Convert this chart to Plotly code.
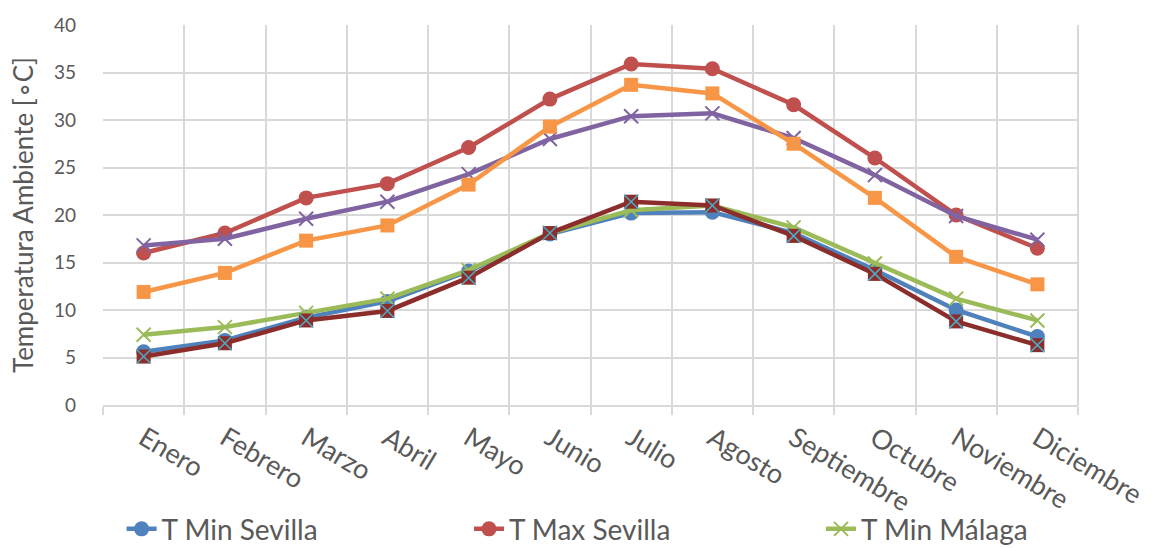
import plotly.graph_objects as go

# Monthly ambient temperatures (°C)
meses = ["Enero", "Febrero", "Marzo", "Abril", "Mayo", "Junio", "Julio",
         "Agosto", "Septiembre", "Octubre", "Noviembre", "Diciembre"]

t_min_sevilla = [5.6, 6.8, 9.2, 10.9, 14.1, 18.0, 20.2, 20.3, 18.1, 14.2, 10.0, 7.2]
t_max_sevilla = [16.0, 18.1, 21.8, 23.3, 27.1, 32.2, 35.9, 35.4, 31.6, 26.0, 20.0, 16.5]
t_min_malaga = [7.4, 8.2, 9.7, 11.2, 14.2, 18.1, 20.5, 21.0, 18.7, 14.9, 11.2, 8.9]
t_max_malaga = [16.8, 17.5, 19.6, 21.4, 24.3, 28.0, 30.4, 30.7, 28.1, 24.2, 19.9, 17.4]
t_max_jaen = [11.9, 13.9, 17.3, 18.9, 23.2, 29.3, 33.7, 32.8, 27.5, 21.8, 15.6, 12.7]
t_min_jaen = [5.1, 6.5, 8.9, 9.9, 13.4, 18.1, 21.4, 21.0, 17.8, 13.8, 8.8, 6.3]

y_ticks = [0, 5, 10, 15, 20, 25, 30, 35, 40]

BLUE = "#4F81BD"
RED = "#C0504D"
GREEN = "#9BBB59"
PURPLE = "#8064A2"
ORANGE = "#F79646"
DARKRED = "#8B2D2B"
AQUA = "#4BACC6"

fig = go.Figure()

def add_series(name, values, color, symbol, size, legend, msize_line=0):
    fig.add_trace(go.Scatter(
        x=meses, y=values, name=name, mode="lines+markers", legend=legend,
        line=dict(color=color, width=4.5),
        marker=dict(symbol=symbol, size=size, color=color,
                    line=dict(width=msize_line, color=color)),
    ))

add_series("T Min Sevilla", t_min_sevilla, BLUE, "circle", 15, "legend")
add_series("T Max Sevilla", t_max_sevilla, RED, "circle", 15, "legend2")
add_series("T Min Málaga", t_min_malaga, GREEN, "x-thin", 14, "legend3", 2)
# second legend row sits below the bottom edge of the page
add_series("T Max Málaga", t_max_malaga, PURPLE, "x-thin", 14, "legend4", 2)
add_series("T Max Jaén", t_max_jaen, ORANGE, "square", 14, "legend4")
add_series("T Min Jaén", t_min_jaen, DARKRED, "square", 14, "legend4")

# cross drawn over the dark red squares
fig.add_trace(go.Scatter(
    x=meses, y=t_min_jaen, mode="markers", showlegend=False, hoverinfo="skip",
    marker=dict(symbol="x-thin", size=14, color=AQUA, line=dict(width=1.5, color=AQUA)),
))

grid = "#D9D9D9"
text_col = "#595959"
leg_font = dict(family="Lato, sans-serif", size=28, color=text_col)

def legend_at(x, y=0.08):
    return dict(orientation="h", xref="container", yref="container",
                x=x, y=y, xanchor="left", yanchor="top", itemwidth=30,
                font=leg_font, bgcolor="rgba(0,0,0,0)")

fig.update_layout(
    width=1158, height=548,
    margin=dict(l=103, r=80, t=25, b=143, autoexpand=False),
    paper_bgcolor="white", plot_bgcolor="white",
    font=dict(family="Lato, Open Sans, sans-serif", color=text_col),
    showlegend=True,
    legend=legend_at(0.105),
    legend2=legend_at(0.405),
    legend3=legend_at(0.709),
    legend4=legend_at(0.105, 0.0),
)

fig.update_xaxes(
    type="category", tickson="boundaries",
    showgrid=True, gridcolor=grid, gridwidth=2,
    showline=True, linecolor=grid, linewidth=2,
    ticks="outside", ticklen=8, tickcolor=grid, tickwidth=2,
    tickangle=31, tickfont=dict(size=27, color=text_col), ticklabelstandoff=5,
    range=[-0.5, 11.5],
)
fig.update_yaxes(
    range=[0, 40], tickvals=y_ticks, ticktext=[str(v) for v in y_ticks],
    showgrid=True, gridcolor=grid, gridwidth=2,
    zeroline=False, showline=False,
    tickfont=dict(size=19, color=text_col), ticklabelstandoff=26,
    title=dict(text="Temperatura Ambiente [∘C]", font=dict(size=26, color=text_col), standoff=12),
)
# right-hand border of the plotting area
fig.add_shape(type="line", xref="paper", yref="paper", x0=1, x1=1, y0=0, y1=1,
              line=dict(color=grid, width=2), layer="below")

fig.write_html("out.html")
